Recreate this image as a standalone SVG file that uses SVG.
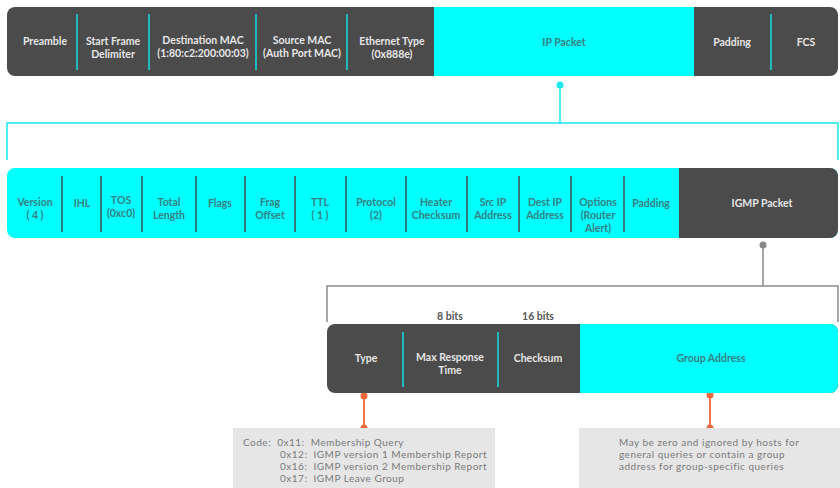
<svg xmlns="http://www.w3.org/2000/svg" width="840" height="488" viewBox="0 0 840 488">
<style>
text{font-family:Lato,"Open Sans","Liberation Sans",sans-serif;font-size:10.5px;font-weight:700;text-anchor:middle}
.lt{fill:#e6e6e6}
.dk{fill:#3b8080}
.dv1{stroke:#20b8b8;stroke-width:2}
.dv2{stroke:#2f7f7f;stroke-width:2}
.note{font-weight:400;font-size:10px;letter-spacing:0.5px;fill:#7a7a7a;text-anchor:start;white-space:pre}
.cy{stroke:#19e8ec;stroke-width:1.5;fill:none}
.gy{stroke:#8a8a8a;stroke-width:1.5;fill:none}
.or{stroke:#ee6a3e;stroke-width:1.8;fill:none}
</style>
<rect width="840" height="488" fill="#ffffff"/>
<g id="connectors">
<circle cx="560" cy="85" r="3.5" fill="#19e8ec"/>
<path class="cy" d="M560 85V123M7 160V123H838V160"/>
<circle cx="763" cy="245" r="3.5" fill="#8a8a8a"/>
<path class="gy" d="M763 245V286M327 322V286H838V322"/>
<path class="or" d="M364 396V428M710 395V428"/>
<circle cx="364" cy="396" r="3.5" fill="#ee6a3e"/>
<circle cx="364" cy="428" r="3.5" fill="#ee6a3e"/>
<circle cx="710" cy="395" r="3.5" fill="#ee6a3e"/>
<circle cx="710" cy="428" r="3.5" fill="#ee6a3e"/>
</g>
<g id="ethernet-frame">
<rect x="7" y="7" width="831" height="69" rx="8" fill="#4b4b4b"/>
<rect x="434" y="7" width="260" height="69" fill="#00ffff"/>
<line class="dv1" x1="77" y1="14" x2="77" y2="70"/>
<line class="dv1" x1="149" y1="14" x2="149" y2="70"/>
<line class="dv1" x1="256" y1="14" x2="256" y2="70"/>
<line class="dv1" x1="347" y1="14" x2="347" y2="70"/>
<line class="dv1" x1="771" y1="14" x2="771" y2="70"/>
<text class="lt" x="45" y="45">Preamble</text>
<text class="lt" x="113" y="45">Start Frame</text>
<text class="lt" x="113" y="58">Delimiter</text>
<text class="lt" x="203" y="44">Destination MAC</text>
<text class="lt" x="203" y="57">(1:80:c2:200:00:03)</text>
<text class="lt" x="302" y="44">Source MAC</text>
<text class="lt" x="302" y="57">(Auth Port MAC)</text>
<text class="lt" x="392" y="45">Ethernet Type</text>
<text class="lt" x="392" y="58">(0x888e)</text>
<text class="dk" x="564" y="46">IP Packet</text>
<text class="lt" x="732" y="46">Padding</text>
<text class="lt" x="806" y="46">FCS</text>
</g>
<g id="ip-packet">
<rect x="7" y="168" width="831" height="70" rx="8" fill="#00ffff"/>
<path d="M679 168H830A8 8 0 0 1 838 176V230A8 8 0 0 1 830 238H679Z" fill="#4b4b4b"/>
<g class="dv2">
<line x1="62" y1="176" x2="62" y2="232"/>
<line x1="101" y1="176" x2="101" y2="232"/>
<line x1="142" y1="176" x2="142" y2="232"/>
<line x1="196" y1="176" x2="196" y2="232"/>
<line x1="245" y1="176" x2="245" y2="232"/>
<line x1="295" y1="176" x2="295" y2="232"/>
<line x1="346" y1="176" x2="346" y2="232"/>
<line x1="406" y1="176" x2="406" y2="232"/>
<line x1="467" y1="176" x2="467" y2="232"/>
<line x1="519" y1="176" x2="519" y2="232"/>
<line x1="571" y1="176" x2="571" y2="232"/>
<line x1="624" y1="176" x2="624" y2="232"/>
</g>
<text class="dk" x="35" y="206">Version</text>
<text class="dk" x="35" y="219">( 4 )</text>
<text class="dk" x="82" y="207">IHL</text>
<text class="dk" x="121" y="204">TOS</text>
<text class="dk" x="121" y="217">(0xc0)</text>
<text class="dk" x="169" y="206">Total</text>
<text class="dk" x="169" y="219">Length</text>
<text class="dk" x="220" y="207">Flags</text>
<text class="dk" x="270" y="206">Frag</text>
<text class="dk" x="270" y="219">Offset</text>
<text class="dk" x="320" y="206">TTL</text>
<text class="dk" x="320" y="219">( 1 )</text>
<text class="dk" x="376" y="206">Protocol</text>
<text class="dk" x="376" y="219">(2)</text>
<text class="dk" x="436" y="206">Heater</text>
<text class="dk" x="436" y="219">Checksum</text>
<text class="dk" x="493" y="206">Src IP</text>
<text class="dk" x="493" y="219">Address</text>
<text class="dk" x="545" y="206">Dest IP</text>
<text class="dk" x="545" y="219">Address</text>
<text class="dk" x="598" y="206">Options</text>
<text class="dk" x="598" y="219">(Router</text>
<text class="dk" x="598" y="232">Alert)</text>
<text class="dk" x="651" y="207">Padding</text>
<text class="lt" x="762" y="207">IGMP Packet</text>
</g>
<g id="igmp-packet">
<text x="450" y="320" fill="#555555">8 bits</text>
<text x="538" y="320" fill="#555555">16 bits</text>
<rect x="327" y="324" width="511" height="69" rx="8" fill="#4b4b4b"/>
<path d="M580 324H830A8 8 0 0 1 838 332V385A8 8 0 0 1 830 393H580Z" fill="#00ffff"/>
<line class="dv1" x1="403" y1="332" x2="403" y2="387"/>
<line class="dv1" x1="498" y1="332" x2="498" y2="387"/>
<text class="lt" x="366" y="362">Type</text>
<text class="lt" x="450" y="361">Max Response</text>
<text class="lt" x="450" y="374">Time</text>
<text class="lt" x="538" y="362">Checksum</text>
<text class="dk" x="711" y="362">Group Address</text>
</g>
<g id="type-note">
<rect x="233" y="428" width="262" height="60" fill="#e6e6e6"/>
<text class="note" x="243" y="446">Code:  0x11:  Membership Query</text>
<text class="note" x="280" y="458">0x12:  IGMP version 1 Membership Report</text>
<text class="note" x="280" y="470">0x16:  IGMP version 2 Membership Report</text>
<text class="note" x="280" y="482">0x17:  IGMP Leave Group</text>
</g>
<g id="group-note">
<rect x="579" y="428" width="261" height="60" fill="#e6e6e6"/>
<text class="note" x="619" y="446">May be zero and ignored by hosts for</text>
<text class="note" x="619" y="458">general queries or contain a group</text>
<text class="note" x="619" y="470">address for group-specific queries</text>
</g>
</svg>
